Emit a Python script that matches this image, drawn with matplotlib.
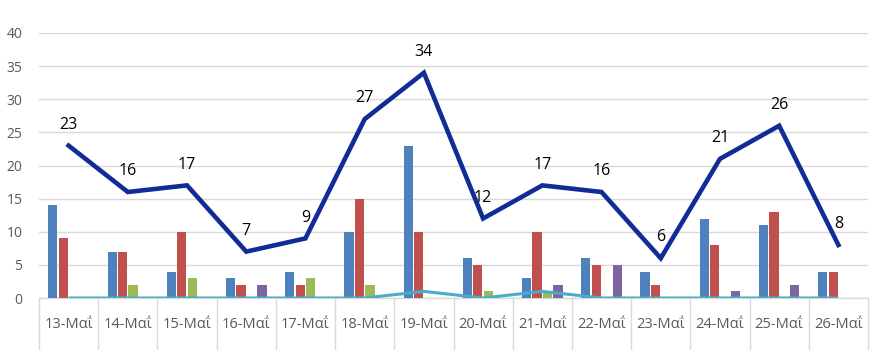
import matplotlib
matplotlib.use("Agg")
import matplotlib.pyplot as plt
import matplotlib.transforms as mtransforms
import numpy as np

plt.rcParams['font.family'] = ['Open Sans', 'DejaVu Sans']

# Data
days = ["13-Μαΐ", "14-Μαΐ", "15-Μαΐ", "16-Μαΐ", "17-Μαΐ", "18-Μαΐ", "19-Μαΐ",
        "20-Μαΐ", "21-Μαΐ", "22-Μαΐ", "23-Μαΐ", "24-Μαΐ", "25-Μαΐ", "26-Μαΐ"]
series_blue = [14, 7, 4, 3, 4, 10, 23, 6, 3, 6, 4, 12, 11, 4]
series_red = [9, 7, 10, 2, 2, 15, 10, 5, 10, 5, 2, 8, 13, 4]
series_green = [0, 2, 3, 0, 3, 2, 0, 1, 1, 0, 0, 0, 0, 0]
series_purple = [0, 0, 0, 2, 0, 0, 0, 0, 2, 5, 0, 1, 2, 0]
series_cyan = [0, 0, 0, 0, 0, 0, 1, 0, 1, 0, 0, 0, 0, 0]
totals = [23, 16, 17, 7, 9, 27, 34, 12, 17, 16, 6, 21, 26, 8]

bar_colors = ['#4F81BD', '#C0504D', '#9BBB59', '#8064A2']
cyan = '#4BACC6'
navy = '#112C96'
text_gray = '#595959'

fig = plt.figure(figsize=(8.8, 3.5), dpi=100)
ax = fig.add_axes([39 / 880, 52 / 350, 829 / 880, 265 / 350])

x = np.arange(len(days))
step = 0.177
width = 0.155
offsets = [-1.5 * step, -0.5 * step, 0.5 * step, 1.5 * step]
for vals, col, off in zip([series_blue, series_red, series_green, series_purple],
                          bar_colors, offsets):
    ax.bar(x + off, vals, width=width, color=col, zorder=2)

ax.plot(x, series_cyan, color=cyan, lw=2.2, zorder=3, solid_capstyle='butt')
ax.plot(x, totals, color=navy, lw=3.3, zorder=4, solid_joinstyle='miter')

for xi, t in zip(x, totals):
    ax.annotate(str(t), (xi, t), xytext=(0, 15), textcoords='offset points',
                ha='center', va='center', fontsize=11.5, color='black', zorder=5)

ax.set_xlim(-0.5, len(days) - 0.5)
ax.set_ylim(0, 40)
ax.set_yticks(range(0, 41, 5))
ax.yaxis.grid(True, color='#D9D9D9', lw=1.0, zorder=0)
ax.set_axisbelow(True)
for s in ax.spines.values():
    s.set_visible(False)
ax.tick_params(axis='y', length=0, labelsize=10, labelcolor=text_gray, pad=12)
ax.set_xticks([])

# category cells under the axis
trans = mtransforms.blended_transform_factory(ax.transData, ax.transAxes)
cell_bottom = -52 / 265
ax.plot([-0.5, len(days) - 0.5], [0, 0], transform=trans, color='#D9D9D9',
        lw=1.0, clip_on=False, zorder=1)
for b in np.arange(-0.5, len(days), 1.0):
    ax.plot([b, b], [0, cell_bottom], transform=trans, color='#D9D9D9',
            lw=1.0, clip_on=False)
for xi, d in zip(x, days):
    ax.text(xi, -27 / 265, d, transform=trans, ha='center', va='center',
            fontsize=10.5, color=text_gray)

fig.savefig("out.png", dpi=100)
